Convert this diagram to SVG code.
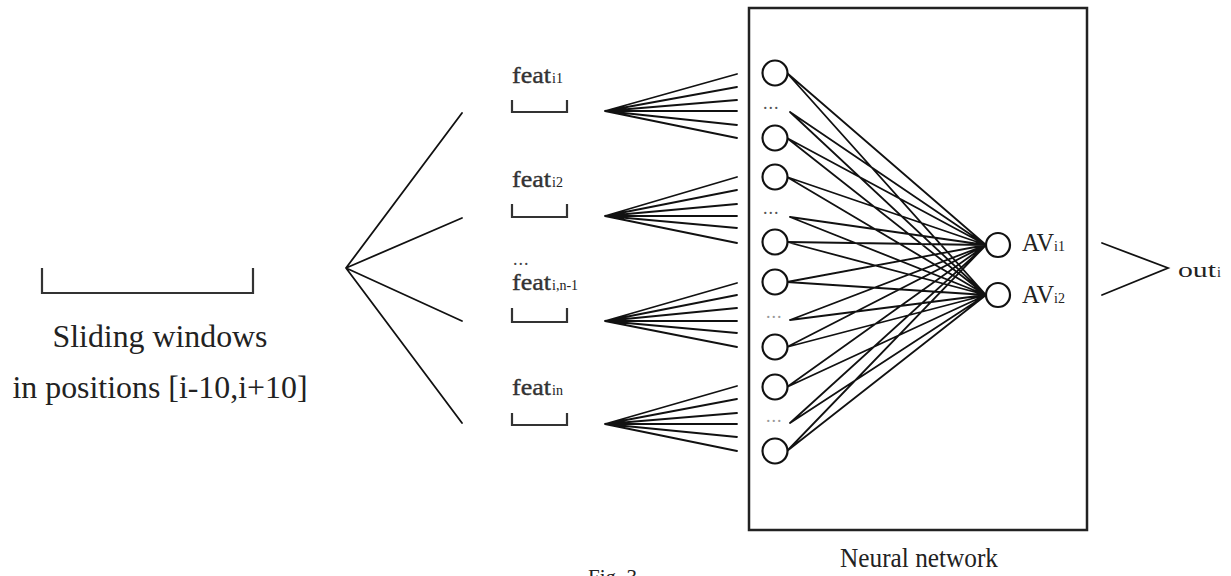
<svg xmlns="http://www.w3.org/2000/svg" width="1231" height="576" viewBox="0 0 1231 576">
<style>
.ln{stroke:#111;stroke-width:1.8;fill:none;stroke-linecap:round}
.br{stroke:#333;stroke-width:2.2;fill:none}
.nd{stroke:#111;stroke-width:2.2;fill:#fff}
.t{font-family:"Liberation Serif","Times New Roman",serif;fill:#222}
.ft{font-family:"Liberation Serif","Times New Roman",serif;fill:#333;stroke:#333;stroke-width:0.4;font-size:24px}
.sub{font-family:"Liberation Serif","Times New Roman",serif;fill:#222;font-size:14px}
.dots{font-family:"Liberation Serif",serif;font-size:18px;letter-spacing:1px}
</style>
<rect x="0" y="0" width="1231" height="576" fill="#fff"/>

<g id="sliding-window">
<path class="br" d="M42,268 V293 H253 V268"/>
<text class="t" x="160" y="347" font-size="31" text-anchor="middle" textLength="215" lengthAdjust="spacingAndGlyphs">Sliding windows</text>
<text class="t" x="160" y="398" font-size="31" text-anchor="middle" textLength="295" lengthAdjust="spacingAndGlyphs">in positions [i-10,i+10]</text>
</g>

<g id="feat-1">
<text class="ft" x="512" y="83" textLength="39" lengthAdjust="spacingAndGlyphs">feat</text><text class="sub" x="552" y="83">i1</text>
<path class="br" d="M512,100 V112 H567 V100"/>
</g>
<g id="feat-2">
<text class="ft" x="512" y="187" textLength="39" lengthAdjust="spacingAndGlyphs">feat</text><text class="sub" x="552" y="187">i2</text>
<path class="br" d="M512,204 V217 H567 V204"/>
</g>
<g id="feat-n-1">
<text class="dots" x="513" y="265" fill="#444">...</text>
<text class="ft" x="512" y="290" textLength="39" lengthAdjust="spacingAndGlyphs">feat</text><text class="sub" x="552" y="290">i,n-1</text>
<path class="br" d="M512,308 V322 H567 V308"/>
</g>
<g id="feat-n">
<text class="ft" x="512" y="395" textLength="39" lengthAdjust="spacingAndGlyphs">feat</text><text class="sub" x="552" y="395">in</text>
<path class="br" d="M512,413 V425 H567 V413"/>
</g>

<g id="neural-network">
<rect x="749" y="8" width="338" height="522" fill="none" stroke="#222" stroke-width="2.5"/>
<text class="t" x="840" y="567" font-size="28" textLength="158" lengthAdjust="spacingAndGlyphs">Neural network</text>
</g>

<g id="connectors">
<path class="ln" d="M346,268 L462,113 M346,268 L462,218 M346,268 L462,321 M346,268 L462,423"/>
<path class="ln" d="M605,111 L737,74 M605,111 L737,87 M605,111 L737,100 M605,111 L737,111 M605,111 L737,125 M605,111 L737,138"/>
<path class="ln" d="M605,216 L737,177 M605,216 L737,190 M605,216 L737,204 M605,216 L737,216 M605,216 L737,228 M605,216 L737,243"/>
<path class="ln" d="M605,321 L737,283 M605,321 L737,295 M605,321 L737,308 M605,321 L737,321 M605,321 L737,333 M605,321 L737,347"/>
<path class="ln" d="M605,424 L737,386 M605,424 L737,399 M605,424 L737,413 M605,424 L737,424 M605,424 L737,437 M605,424 L737,451"/>
<path class="ln" stroke-width="1.7" d="
M787,73 L986,245 M787,73 L986,295
M790,112 L986,245 M790,112 L986,295
M787,138 L986,245 M787,138 L986,295
M787,177 L986,245 M787,177 L986,295
M790,217 L986,245 M790,217 L986,295
M787,242 L986,245 M787,242 L986,295
M787,282 L986,245 M787,282 L986,295
M790,320 L986,245 M790,320 L986,295
M787,347 L986,245 M787,347 L986,295
M787,387 L986,245 M787,387 L986,295
M790,423 L986,245 M790,423 L986,295
M787,451 L986,245 M787,451 L986,295"/>
<path class="ln" d="M1102,243 L1168,268 L1102,295"/>
</g>

<g id="input-nodes">
<circle class="nd" cx="775" cy="73" r="12.5"/>
<text class="dots" x="763" y="109" fill="#555">...</text>
<circle class="nd" cx="775" cy="138" r="12.5"/>
<circle class="nd" cx="775" cy="177" r="12.5"/>
<text class="dots" x="763" y="214" fill="#555">...</text>
<circle class="nd" cx="775" cy="242" r="12.5"/>
<circle class="nd" cx="775" cy="282" r="12.5"/>
<text class="dots" x="766" y="318" fill="#999">...</text>
<circle class="nd" cx="775" cy="347" r="12.5"/>
<circle class="nd" cx="775" cy="387" r="12.5"/>
<text class="dots" x="766" y="422" fill="#999">...</text>
<circle class="nd" cx="775" cy="451" r="12.5"/>
</g>

<g id="output-av1">
<circle class="nd" cx="998" cy="245" r="12"/>
<text class="t" x="1022" y="251" font-size="25" textLength="32" lengthAdjust="spacingAndGlyphs">AV</text><text class="sub" x="1054" y="251">i1</text>
</g>
<g id="output-av2">
<circle class="nd" cx="998" cy="295" r="12"/>
<text class="t" x="1022" y="303" font-size="25" textLength="32" lengthAdjust="spacingAndGlyphs">AV</text><text class="sub" x="1054" y="303">i2</text>
</g>

<g id="out">
<text class="t" x="1178" y="277" font-size="21" textLength="38" lengthAdjust="spacingAndGlyphs">out</text><text class="sub" x="1217" y="277" font-size="12">i</text>
</g>

<text class="t" x="588" y="584" font-size="21">Fig. 3</text>
</svg>
